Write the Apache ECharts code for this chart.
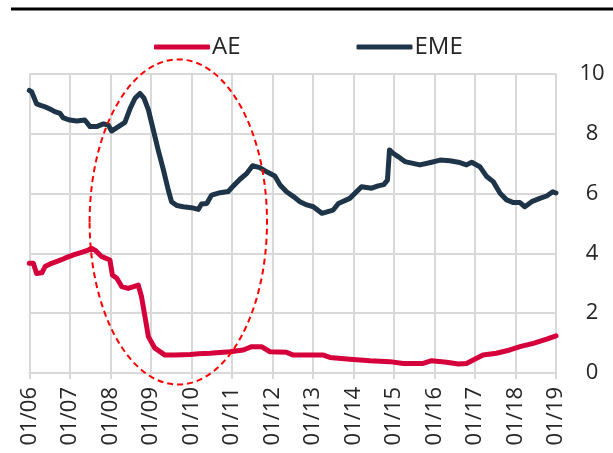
<!DOCTYPE html>
<html>
<head>
<meta charset="utf-8">
<script src="https://cdn.jsdelivr.net/npm/echarts@6/dist/echarts.min.js"></script>
<style>
html,body{margin:0;padding:0;background:#fff;}
#chart{width:613px;height:453px;}
</style>
</head>
<body>
<div id="chart"></div>
<script>
// Series names
const seriesNames = ['AE', 'EME'];
// Year ticks shown on the x axis
const yearTicks = [2006, 2007, 2008, 2009, 2010, 2011, 2012, 2013, 2014, 2015, 2016, 2017, 2018, 2019];
const yTicks = [0, 2, 4, 6, 8, 10];

// AE (advanced economies) – time as fractional year, value
const aeDates = [2006.00, 2006.10, 2006.18, 2006.31, 2006.39, 2006.55, 2006.72, 2006.88, 2007.09, 2007.25, 2007.42, 2007.54, 2007.64, 2007.79, 2007.99, 2008.05, 2008.16, 2008.28, 2008.44, 2008.69, 2008.77, 2008.87, 2008.94, 2009.10, 2009.35, 2009.60, 2009.97, 2010.18, 2010.46, 2010.95, 2011.28, 2011.49, 2011.73, 2011.94, 2012.35, 2012.52, 2013.26, 2013.42, 2013.91, 2014.41, 2014.90, 2015.23, 2015.72, 2015.93, 2016.30, 2016.59, 2016.79, 2017.04, 2017.20, 2017.53, 2017.86, 2018.11, 2018.44, 2018.77, 2019.00];
const aeValues = [3.67, 3.67, 3.33, 3.35, 3.56, 3.67, 3.75, 3.84, 3.95, 4.02, 4.09, 4.17, 4.09, 3.89, 3.78, 3.28, 3.17, 2.89, 2.83, 2.94, 2.55, 1.77, 1.21, 0.83, 0.60, 0.60, 0.62, 0.64, 0.66, 0.71, 0.77, 0.88, 0.88, 0.71, 0.69, 0.60, 0.60, 0.52, 0.46, 0.41, 0.38, 0.32, 0.32, 0.41, 0.36, 0.30, 0.32, 0.49, 0.60, 0.66, 0.77, 0.88, 0.99, 1.13, 1.24];

// EME (emerging market economies)
const emeDates = [2006.00, 2006.06, 2006.12, 2006.18, 2006.28, 2006.39, 2006.51, 2006.63, 2006.76, 2006.84, 2007.00, 2007.17, 2007.37, 2007.50, 2007.66, 2007.83, 2007.95, 2008.03, 2008.20, 2008.36, 2008.49, 2008.61, 2008.73, 2008.83, 2008.94, 2009.06, 2009.18, 2009.31, 2009.43, 2009.51, 2009.64, 2009.80, 2010.00, 2010.17, 2010.25, 2010.38, 2010.50, 2010.71, 2010.91, 2011.03, 2011.20, 2011.37, 2011.51, 2011.69, 2011.86, 2012.06, 2012.19, 2012.35, 2012.52, 2012.68, 2012.85, 2013.01, 2013.22, 2013.50, 2013.63, 2013.91, 2014.20, 2014.45, 2014.61, 2014.75, 2014.84, 2014.89, 2014.98, 2015.11, 2015.27, 2015.64, 2015.93, 2016.14, 2016.38, 2016.59, 2016.79, 2016.92, 2017.12, 2017.29, 2017.45, 2017.62, 2017.78, 2017.95, 2018.11, 2018.23, 2018.40, 2018.60, 2018.77, 2018.92, 2019.00];
const emeValues = [9.45, 9.40, 9.20, 9.00, 8.95, 8.90, 8.83, 8.74, 8.68, 8.53, 8.46, 8.43, 8.46, 8.24, 8.24, 8.33, 8.29, 8.09, 8.24, 8.38, 8.85, 9.19, 9.35, 9.19, 8.80, 8.13, 7.46, 6.79, 6.12, 5.73, 5.60, 5.56, 5.53, 5.47, 5.65, 5.67, 5.95, 6.03, 6.07, 6.25, 6.48, 6.68, 6.93, 6.87, 6.73, 6.59, 6.29, 6.06, 5.90, 5.73, 5.62, 5.56, 5.34, 5.45, 5.67, 5.84, 6.23, 6.18, 6.26, 6.30, 6.45, 7.46, 7.35, 7.23, 7.07, 6.96, 7.05, 7.12, 7.10, 7.05, 6.96, 7.05, 6.90, 6.57, 6.40, 6.01, 5.79, 5.70, 5.70, 5.56, 5.73, 5.84, 5.92, 6.06, 6.02];

const zip = (xs, ys) => xs.map((x, i) => [x, ys[i]]);

const FONT = '"Open Sans", sans-serif';
const GRID_COLOR = '#D9D9D9';
const TEXT_COLOR = '#262626';

const chart = echarts.init(document.getElementById('chart'), null, {renderer: 'canvas'});
chart.setOption({
  animation: false,
  backgroundColor: '#fff',
  grid: {left: 29.3, right: 57, top: 74, bottom: 80, containLabel: false},
  legend: {
    data: seriesNames,
    left: 149,
    top: 30,
    icon: 'roundRect',
    itemWidth: 56,
    itemHeight: 5,
    itemGap: 116,
    textStyle: {fontFamily: FONT, fontSize: 24, color: TEXT_COLOR, lineHeight: 24, padding: [0, 0, 0, -3]}
  },
  xAxis: {
    type: 'value',
    min: yearTicks[0],
    max: yearTicks[yearTicks.length - 1],
    interval: 1,
    axisLine: {show: true, lineStyle: {color: GRID_COLOR, width: 2}},
    axisTick: {show: true, length: 6, lineStyle: {color: GRID_COLOR, width: 2}},
    splitLine: {show: true, lineStyle: {color: GRID_COLOR, width: 2}},
    axisLabel: {
      rotate: 90,
      margin: 14,
      fontFamily: FONT,
      fontSize: 22,
      color: TEXT_COLOR,
      formatter: v => '01/' + String(Math.round(v)).slice(2)
    }
  },
  yAxis: {
    type: 'value',
    position: 'right',
    min: yTicks[0],
    max: yTicks[yTicks.length - 1],
    interval: 2,
    axisLine: {show: false},
    axisTick: {show: false},
    splitLine: {show: true, lineStyle: {color: GRID_COLOR, width: 2}},
    axisLabel: {margin: 36, align: 'center', fontFamily: FONT, fontSize: 22, color: TEXT_COLOR}
  },
  series: [
    {
      name: seriesNames[0],
      type: 'line',
      data: zip(aeDates, aeValues),
      showSymbol: false,
      itemStyle: {color: '#D5003B'},
      lineStyle: {color: '#D5003B', width: 5, cap: 'round', join: 'round'},
      z: 3
    },
    {
      name: seriesNames[1],
      type: 'line',
      data: zip(emeDates, emeValues),
      showSymbol: false,
      itemStyle: {color: '#1E3448'},
      lineStyle: {color: '#1E3448', width: 5, cap: 'round', join: 'round'},
      z: 2
    }
  ],
  graphic: [
    {
      type: 'line',
      shape: {x1: 11, y1: 9, x2: 613, y2: 9},
      style: {stroke: '#000', lineWidth: 3},
      z: 100
    },
    {
      type: 'ellipse',
      shape: {cx: 178.3, cy: 222, rx: 88.7, ry: 162.6},
      style: {fill: 'none', stroke: '#FF0000', lineWidth: 2, lineDash: [6, 4]},
      z: 100
    }
  ]
});
</script>
</body>
</html>
